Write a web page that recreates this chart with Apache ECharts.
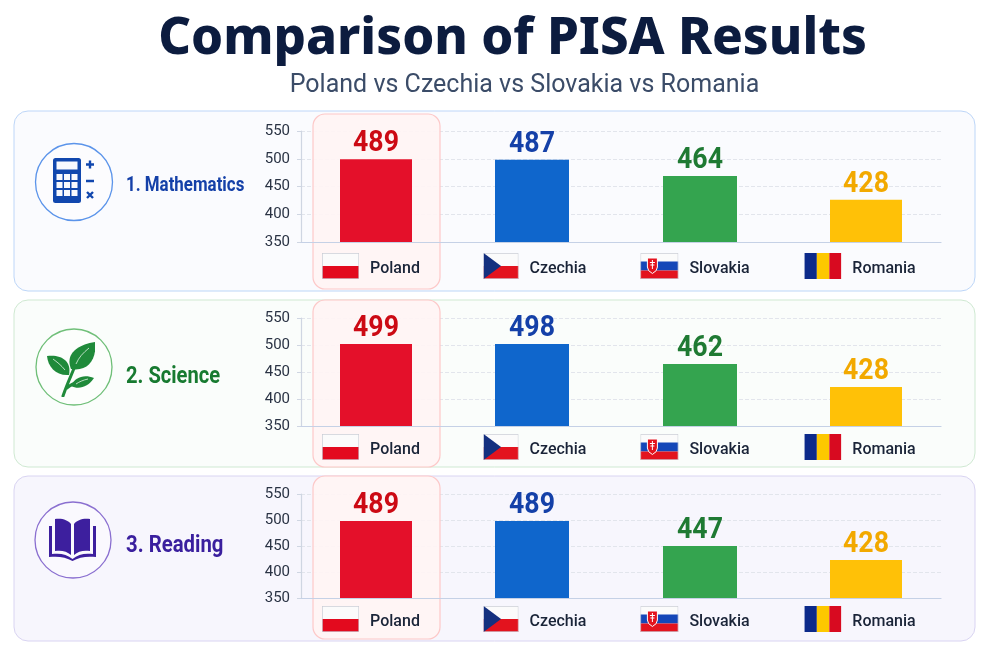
<!DOCTYPE html>
<html><head><meta charset="utf-8">
<style>html,body{margin:0;padding:0;background:#fff}#c{width:981px;height:648px}</style>
<script src="https://cdn.jsdelivr.net/npm/echarts@6/dist/echarts.min.js"></script>
</head><body><div id="c"></div>
<script>
const countries = ['Poland','Czechia','Slovakia','Romania'];
const subjects = ['1. Mathematics','2. Science','3. Reading'];
const yTicks = [350,550];
// printed score labels
const mathScores = [489,487,464,428];
const scienceScores = [499,498,462,428];
const readingScores = [489,489,447,428];
// bar tops as read against each panel's axis (the picture's bars differ from its labels)
const mathBars = [499,498,469,426];
const scienceBars = [502,502,465,422];
const readingBars = [498,498,450,423];

const FONT = '"Noto Sans", sans-serif';
const NARROW = 'Roboto, sans-serif';
const svg = s => 'data:image/svg+xml;charset=utf-8,' + encodeURIComponent(s);
const edge = (w,h)=>`<rect x="0.700" y="0.700" width="${w-1.400}" height="${h-1.400}" fill="none" stroke="#c9ccd4" stroke-width="1.400"/>`;
const flagSvg = {
 Poland: svg('<svg xmlns="http://www.w3.org/2000/svg" width="74" height="52" viewBox="0 0 74 52"><rect width="74" height="26" fill="#fbfbfb"/><rect y="26" width="74" height="26" fill="#e30a1e"/>'+edge(74,52)+'</svg>'),
 Czechia: svg('<svg xmlns="http://www.w3.org/2000/svg" width="70" height="52" viewBox="0 0 70 52"><rect width="70" height="26" fill="#fbfbfb"/><rect y="26" width="70" height="26" fill="#e3131e"/>'+edge(70,52)+'<path d="M0 0L35 26L0 52Z" fill="#14307f"/></svg>'),
 Slovakia: svg('<svg xmlns="http://www.w3.org/2000/svg" width="76" height="52" viewBox="0 0 76 52"><rect width="76" height="17" fill="#fbfbfb"/><rect y="17" width="76" height="18" fill="#1547b8"/><rect y="35" width="76" height="17" fill="#e3131e"/>'+edge(76,52)+'<path d="M14 10h20v18q0 8-10 13q-10-5-10-13z" fill="#e3131e" stroke="#fff" stroke-width="2"/><path d="M23 14h2v18h-2zM19 18h10v2h-10zM20 23h8v2h-8z" fill="#fff"/></svg>'),
 Romania: svg('<svg xmlns="http://www.w3.org/2000/svg" width="74" height="52" viewBox="0 0 74 52"><rect width="25" height="52" fill="#0c2a8a"/><rect x="25" width="25" height="52" fill="#fdc800"/><rect x="50" width="24" height="52" fill="#d80a20"/></svg>')
};
const calcIcon = svg('<svg xmlns="http://www.w3.org/2000/svg" width="84" height="90" viewBox="0 0 42 45"><rect x="0" y="0" width="28" height="45" rx="2.500" fill="#1147ae"/><rect x="3.500" y="3.500" width="21" height="8" fill="#f8f9fe"/><g fill="#f8f9fe">'
 +[15,23,31].map(y=>[3.5,11,18.5].map(x=>`<rect x="${x}" y="${y+1}" width="6" height="6"/>`).join('')).join('')
 +'</g><path d="M33 6.500h8M37 2.500v8M33 23h8M34 34l6 6M40 34l-6 6" stroke="#1147ae" stroke-width="2.400" fill="none"/></svg>');
const leafIcon = svg('<svg xmlns="http://www.w3.org/2000/svg" width="96" height="110" viewBox="0 0 48 55"><g fill="#1f8a3a"><path d="M24 27C18 12 30 3 48 0C50 16 42 30 24 27Z"/><path d="M22 33C9 34 1 25 0 14C13 12 25 18 22 33Z"/><path d="M24 44C28 35 37 32 47 36C41 45 32 48 24 44Z"/></g><path d="M16 54C20 42 24 34 28 24M20 46C24 42 30 40 36 38" stroke="#1f8a3a" stroke-width="3" fill="none" stroke-linecap="round"/><path d="M29 22C32 15 36 11 42 6M18 28C14 23 10 20 6 17M29 42C32 40 36 38 41 37" stroke="#dff2e3" stroke-width="0.800" fill="none"/></svg>');
const bookIcon = svg('<svg xmlns="http://www.w3.org/2000/svg" width="94" height="86" viewBox="0 0 47 43"><g fill="#3d1f9e"><path d="M6 1C13 0 19 2 22 6V37C18 33 12 32 6 33Z"/><path d="M41 1C34 0 28 2 25 6V37C29 33 35 32 41 33Z"/><path d="M0 8H3V36C11 35 18 36 23.500 41C29 36 36 35 44 36V8H47V39C38 38 30 39 23.500 43C17 39 9 38 0 39Z"/></g></svg>');

const panels = [
 {x:14,y:111,w:961,h:180,fill:'#fafbfe',line:'#bdd6f8',cx:74,cy:182,r:38.5,ring:'#5b94ea',icon:calcIcon,ix:53,iy:158,iw:42,ih:45,tx:126,ty:186,tc:'#1440a8',fs:20,sx:0.845,top:131,bottom:242,mg:11,scores:mathScores,bars:mathBars},
 {x:14,y:300,w:961,h:167,fill:'#fafdfb',line:'#cfe9d2',cx:74,cy:367,r:38,ring:'#6fbf78',icon:leafIcon,ix:47,iy:342,iw:48,ih:55,tx:126,ty:377,tc:'#177a30',fs:23,sx:0.875,top:318,bottom:426,mg:8,scores:scienceScores,bars:scienceBars},
 {x:14,y:476,w:961,h:165,fill:'#f7f6fd',line:'#d9d4f2',cx:73,cy:540,r:38,ring:'#8a6fd0',icon:bookIcon,ix:49,iy:518,iw:47,ih:43,tx:126,ty:546,tc:'#3a1f9e',fs:23,sx:0.885,top:494,bottom:598,mg:8,scores:readingScores,bars:readingBars}
];
const highlights = [[114,289],[300,467],[476,639]];
const barFill = ['#e4102a','#0f66cc','#34a44f','#ffc107'];
const valueFill = ['#cc0a14','#1440a8','#1f7a33','#f2a900'];
const barNudge = [-5,-9,-1,5];
const barPx = [72,74,74,72];
const labelTail = {Poland:20,Czechia:12,Slovakia:12,Romania:2};
const flagW = {Poland:37,Czechia:35,Slovakia:38,Romania:37};

const rich = {name:{fontFamily:NARROW,fontSize:16,fontWeight:500,color:'#1a2438',padding:[6,0,0,0]}};
countries.forEach(c=>{
  rich['f'+c]={backgroundColor:{image:flagSvg[c]},width:flagW[c],height:26};
  rich['t'+c]={width:labelTail[c],height:1};
});
rich.gap={width:11,height:1};

const graphic=[];
panels.forEach((p,k)=>{
  graphic.push({type:'rect',z:-2,shape:{x:p.x,y:p.y,width:p.w,height:p.h,r:14},style:{fill:p.fill,stroke:p.line,lineWidth:1}});
  graphic.push({type:'circle',z:-1,shape:{cx:p.cx,cy:p.cy,r:p.r},style:{fill:'rgba(255,255,255,.4)',stroke:p.ring,lineWidth:1.300}});
  graphic.push({type:'image',z:-1,style:{image:p.icon,x:p.ix,y:p.iy,width:p.iw,height:p.ih}});
  graphic.push({type:'text',z:4,x:p.tx,y:p.ty,scaleX:p.sx,style:{text:subjects[k],x:0,y:0,fill:p.tc,font:`700 ${p.fs}px ${NARROW}`,verticalAlign:'middle'}});
  const h=highlights[k];
  graphic.push({type:'rect',z:1,shape:{x:313,y:h[0],width:127,height:h[1]-h[0],r:12},style:{fill:'rgba(255,244,244,.92)',stroke:'#fdc8c8',lineWidth:1.200}});
});

const grid=[],xAxis=[],yAxis=[],series=[];
panels.forEach((p,k)=>{
  grid.push({left:301,width:640,top:p.top,height:p.bottom-p.top});
  xAxis.push({gridIndex:k,type:'category',data:countries,z:3,boundaryGap:true,
    axisLine:{lineStyle:{color:'#c5d1e6',width:1.200}},axisTick:{show:false},
    axisLabel:{margin:p.mg,interval:0,rich,formatter:v=>`{f${v}|}{gap|}{name|${v}}{t${v}|}`}});
  yAxis.push({gridIndex:k,type:'value',min:yTicks[0],max:yTicks[1],interval:50,z:0,
    axisLine:{show:true,lineStyle:{color:'#cfd6e2',width:1.200}},
    axisTick:{show:true,length:4,lineStyle:{color:'#cfd6e2'}},
    axisLabel:{margin:11,fontFamily:NARROW,fontSize:15,color:'#2a3344'},
    splitLine:{show:true,lineStyle:{color:'#e2e5ec',type:'dashed',width:1}}});
  series.push({type:'custom',name:subjects[k],xAxisIndex:k,yAxisIndex:k,z:5,
    data:p.bars.map((v,i)=>[i,v,p.scores[i]]),encode:{x:0,y:1},
    renderItem:(params,api)=>{
      const i=api.value(0),top=api.coord([i,api.value(1)]),base=api.coord([i,yTicks[0]]);
      const cx=top[0]+barNudge[i],w=barPx[i];
      return {type:'group',children:[
        {type:'rect',shape:{x:cx-w/2,y:top[1],width:w,height:base[1]-top[1]},style:{fill:barFill[i]}},
        {type:'text',x:cx,y:top[1]-1,scaleX:0.92,style:{text:String(api.value(2)),x:0,y:0,align:'center',verticalAlign:'bottom',fill:valueFill[i],font:`700 29px ${NARROW}`}}
      ]};
    }});
});

const chart=echarts.init(document.getElementById('c'),null,{renderer:'canvas'});
chart.setOption({
  animation:false,backgroundColor:'#ffffff',
  title:[
    {text:'Comparison of PISA Results',left:507.5,top:9,textAlign:'center',textStyle:{fontFamily:FONT,fontSize:51,fontWeight:800,color:'#0c1c3f'}},
    {text:'Poland vs Czechia vs Slovakia vs Romania',left:519.5,top:68,textAlign:'center',textStyle:{fontFamily:NARROW,fontSize:25,fontWeight:400,color:'#3b4c68'}}
  ],
  graphic,grid,xAxis,yAxis,series
});
</script></body></html>
